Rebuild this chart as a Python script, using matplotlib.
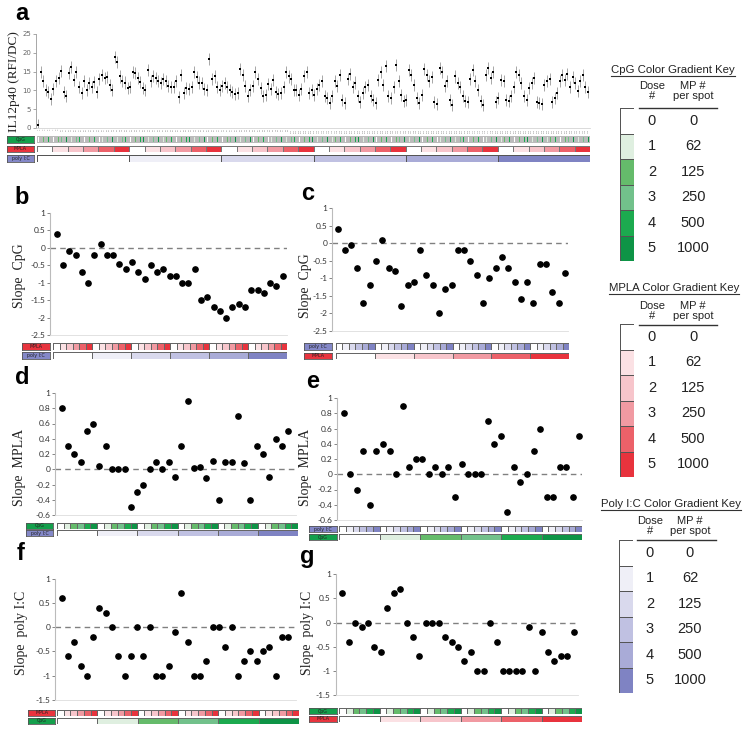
import matplotlib
matplotlib.use('Agg')
import matplotlib.pyplot as plt
from matplotlib.colors import ListedColormap
from matplotlib.lines import Line2D
from matplotlib.ticker import FuncFormatter
import numpy as np

# Figure size in pixels
W, H = 750, 732

plt.rcParams['axes.unicode_minus'] = False

# Dose levels shared by the three adjuvants
DOSES = [0, 1, 2, 3, 4, 5]
MP_PER_SPOT = [0, 62, 125, 250, 500, 1000]

CPG_COLORS = ['#ffffff', '#dfefe0', '#65bb6b', '#72c18b', '#1caa4f', '#0e9446']
MPLA_COLORS = ['#ffffff', '#fbe1e4', '#f7c5cb', '#f19aa2', '#ec6169', '#e8333d']
POLY_COLORS = ['#ffffff', '#efeff7', '#d9d9ed', '#c0c1e2', '#a9abd7', '#7f83c3']
TAG_COLORS = {'CpG': '#14a04c', 'MPLA': '#e8343e', 'poly I:C': '#8488c8'}

# Panel a: IL12p40 for all 216 combinations (poly I:C outer, MPLA middle, CpG inner)
IL12 = [0.8, 14.8, 12.6, 10.1, 9.7, 7.7, 10.3, 12.4, 13.3, 15.2,
        9.5, 8.4, 14.6, 16.1, 12.8, 14.9, 10.9, 9.3, 12.4, 10.0,
        11.9, 10.9, 12.2, 9.5, 13.0, 14.2, 13.2, 13.5, 11.5, 10.1,
        19.0, 17.6, 13.7, 12.4, 12.1, 10.6, 10.9, 15.0, 14.6, 13.4,
        12.2, 10.6, 10.1, 15.5, 12.5, 13.9, 13.2, 12.4, 11.9, 13.0,
        12.4, 11.2, 10.9, 11.0, 12.4, 8.2, 14.1, 9.4, 10.6, 10.3,
        10.9, 14.8, 13.5, 12.1, 11.9, 10.3, 10.1, 18.3, 13.1, 13.7,
        10.9, 10.1, 11.2, 11.9, 10.9, 10.1, 9.7, 9.1, 9.4, 15.8,
        14.1, 11.2, 8.5, 10.0, 11.2, 14.8, 13.0, 10.6, 8.4, 8.8,
        11.7, 10.3, 12.8, 9.7, 9.1, 9.4, 10.9, 14.8, 13.7, 13.0,
        10.0, 10.1, 8.8, 10.3, 13.9, 15.0, 9.3, 10.1, 8.8, 10.3,
        11.5, 12.4, 8.4, 7.9, 6.6, 8.4, 12.4, 11.2, 14.1, 7.5,
        6.6, 13.0, 14.4, 10.9, 12.1, 8.4, 7.0, 9.3, 10.9, 11.5,
        8.4, 7.5, 6.6, 12.8, 14.8, 11.5, 16.4, 8.4, 7.9, 10.9,
        16.8, 12.4, 8.8, 7.3, 7.5, 15.5, 14.1, 11.5, 7.9, 6.6,
        8.8, 15.7, 14.1, 12.4, 13.5, 7.0, 6.4, 15.9, 14.8, 11.2,
        12.4, 7.5, 6.1, 13.7, 11.9, 11.0, 8.4, 7.3, 7.0, 13.0,
        15.5, 12.4, 10.1, 7.3, 6.1, 14.1, 15.9, 13.3, 15.0, 7.0,
        7.9, 12.8, 12.4, 7.5, 7.3, 8.4, 10.9, 15.0, 14.1, 11.9,
        8.4, 7.5, 10.6, 11.9, 13.3, 7.0, 6.6, 6.4, 11.5, 12.4,
        13.0, 7.0, 7.9, 9.3, 12.4, 14.1, 12.8, 14.4, 10.9, 13.5,
        12.0, 9.8, 12.6, 14.2, 11.0, 9.6]
IL12_ERR = 1.6

# Panels b-g: slopes
SLOPE_B = [0.4, -0.5, -0.1, -0.2, -0.7, -1.0, -0.2, 0.1, -0.2, -0.2,
           -0.45, -0.6, -0.4, -0.7, -0.9, -0.5, -0.7, -0.6, -0.8, -0.8,
           -1.0, -1.0, -0.6, -1.5, -1.4, -1.7, -1.8, -2.0, -1.7, -1.6,
           -1.7, -1.2, -1.2, -1.3, -1.0, -1.1, -0.8]
SLOPE_C = [0.4, -0.2, -0.05, -0.7, -1.7, -1.2, -0.5, 0.1, -0.7, -0.8,
           -1.8, -1.2, -1.1, -0.2, -0.9, -1.2, -2.0, -1.3, -1.2, -0.2,
           -0.2, -0.5, -0.9, -1.7, -1.0, -0.7, -0.4, -0.7, -1.1, -1.6,
           -1.1, -1.7, -0.6, -0.6, -1.4, -1.7, -0.85]
SLOPE_D = [0.8, 0.3, 0.2, 0.1, 0.5, 0.6, 0.04, 0.3, 0.0, 0.0,
           0.0, -0.5, -0.3, -0.2, 0.0, 0.1, 0.0, 0.1, -0.1, 0.3,
           0.9, 0.02, 0.03, -0.11, 0.11, -0.4, 0.1, 0.1, 0.7, 0.08,
           -0.4, 0.3, 0.2, -0.1, 0.4, 0.3, 0.5]
SLOPE_E = [0.8, 0.0, -0.2, 0.3, -0.4, 0.3, 0.4, 0.3, 0.0, 0.9,
           0.1, 0.2, 0.2, 0.0, 0.1, 0.0, 0.1, -0.3, 0.14, 0.0,
           0.0, 0.0, 0.7, 0.4, 0.5, -0.5, 0.1, -0.1, 0.0, 0.3,
           0.6, -0.3, -0.3, 0.1, 0.1, -0.3, 0.5]
SLOPE_F = [0.6, -0.6, -0.3, -0.8, -1.0, -0.2, 0.4, 0.3, 0.0, -0.6,
           -1.0, -0.6, 0.0, -0.6, 0.0, -1.0, -1.0, -0.8, -0.1, 0.7,
           -0.3, -1.0, -1.0, -0.7, 0.0, 0.0, -0.4, 0.0, -1.0, -0.7,
           -0.5, -0.7, -0.5, -0.4, -1.0, -0.2, -0.2]
SLOPE_G = [0.6, -0.4, 0.0, -0.1, 0.0, -0.5, -0.6, 0.3, 0.6, 0.7,
           0.0, -0.3, -0.7, 0.0, 0.0, 0.0, -0.3, -0.4, -0.5, -0.8,
           -0.6, -1.0, -1.0, 0.0, -0.4, -1.0, -1.0, -1.0, -1.0, -0.1,
           -1.0, -0.2, -0.6, -0.8, -0.7, -0.7, -0.2]


def px_axes(fig, left, top, right, bottom):
    """Add axes placed with pixel coordinates measured from the top-left."""
    return fig.add_axes([left / W, 1 - bottom / H, (right - left) / W, (bottom - top) / H])


def dose_strip(fig, box, doses, colors, edge='#666666', lw=0.6):
    ax = px_axes(fig, *box)
    ax.pcolormesh(np.array([doses]), cmap=ListedColormap(colors), vmin=-0.5, vmax=5.5,
                  edgecolors=edge, linewidth=lw)
    ax.set_xlim(0, len(doses))
    ax.set_ylim(0, 1)
    ax.axis('off')
    return ax


def tag(fig, box, name):
    ax = px_axes(fig, *box)
    ax.set_facecolor(TAG_COLORS[name])
    ax.set_xticks([])
    ax.set_yticks([])
    for s in ax.spines.values():
        s.set_color('#555555')
        s.set_linewidth(0.6)
    ax.text(0.5, 0.5, name, ha='center', va='center', fontsize=3.4,
            color='#222222', transform=ax.transAxes)


def panel_letter(fig, x, y, letter):
    fig.text(x / W, 1 - y / H, letter, fontsize=17, fontweight='bold',
             family='Liberation Sans', ha='left', va='center')


def vlabel(fig, x, y, text, size=10):
    fig.text(x / W, 1 - y / H, text, rotation=90, ha='center', va='center',
             family='Liberation Serif', fontsize=size, color='#222222')


def slope_panel(fig, box, values, xlim, ylim, yticks):
    ax = px_axes(fig, *box)
    x = np.arange(len(values))
    ax.axhline(0, color='#808080', lw=1.0, ls=(0, (4, 3)))
    ax.plot(x, values, 'o', color='black', ms=3.8, clip_on=False, zorder=3)
    ax.set_xlim(*xlim)
    ax.set_ylim(*ylim)
    ax.set_yticks(yticks)
    ax.yaxis.set_major_formatter(FuncFormatter(lambda v, p: f'{v:g}'))
    ax.set_xticks([])
    ax.tick_params(axis='y', labelsize=6, colors='#555555', length=2, width=0.5, pad=1.5)
    for lbl in ax.get_yticklabels():
        lbl.set_family('Lato')
        lbl.set_color('#333333')
    ax.spines['top'].set_visible(False)
    ax.spines['right'].set_visible(False)
    ax.spines['left'].set_color('#bbbbbb')
    ax.spines['bottom'].set_color('#dddddd')
    ax.spines['left'].set_linewidth(0.8)
    ax.spines['bottom'].set_linewidth(0.6)
    return ax


fig = plt.figure(figsize=(W / 100, H / 100), dpi=100)

# ---------------- panel a ----------------
ax = px_axes(fig, 36, 34, 590, 128)
xa = np.arange(len(IL12))
ax.errorbar(xa, IL12, yerr=IL12_ERR, fmt='s', ms=1.8, mew=0, color='black',
            ecolor='#666666', elinewidth=0.4, capsize=0.8, capthick=0.4)
ax.set_xlim(-0.8, len(IL12) - 0.2)
ax.set_ylim(0, 25)
ax.set_yticks([0, 5, 10, 15, 20, 25])
ax.set_xticks(xa)
ax.set_xticklabels([str(i + 1) for i in xa], fontsize=1.6, color='#888888', rotation=90)
ax.tick_params(axis='x', length=0, pad=0.5)
ax.tick_params(axis='y', labelsize=5, colors='#666666', length=2, width=0.4, pad=1.5)
ax.spines['top'].set_visible(False)
ax.spines['right'].set_visible(False)
ax.spines['left'].set_color('#999999')
ax.spines['bottom'].set_color('#cccccc')
ax.spines['left'].set_linewidth(0.6)
ax.spines['bottom'].set_linewidth(0.5)
vlabel(fig, 14, 82, 'IL12p40 (RFI/DC)', size=9.5)
panel_letter(fig, 15, 14, 'a')

cpg_216 = [c for p in DOSES for m in DOSES for c in DOSES]
mpla_36 = [m for p in DOSES for m in DOSES]
dose_strip(fig, (37, 136, 590, 143), cpg_216, CPG_COLORS, edge='#bbbbbb', lw=0.2)
dose_strip(fig, (37, 145.5, 590, 152), mpla_36, MPLA_COLORS, edge='#777777', lw=0.4)
dose_strip(fig, (37, 155, 590, 162), DOSES, POLY_COLORS, edge='#555555', lw=0.6)
tag(fig, (7, 136, 34, 143), 'CpG')
tag(fig, (7, 145.5, 34, 152), 'MPLA')
tag(fig, (7, 155, 34, 162), 'poly I:C')

inner36 = [i for o in DOSES for i in DOSES]

# ---------------- panel b ----------------
slope_panel(fig, (50, 213, 287, 335), SLOPE_B, (-1.07, 36.7), (-2.5, 1),
            [-2.5, -2, -1.5, -1, -0.5, 0, 0.5, 1])
vlabel(fig, 19, 276, 'Slope  CpG')
panel_letter(fig, 14, 198, 'b')
dose_strip(fig, (53, 343, 287, 350), inner36, MPLA_COLORS)
dose_strip(fig, (53, 352, 287, 359), DOSES, POLY_COLORS)
tag(fig, (22, 343, 50, 350), 'MPLA')
tag(fig, (22, 352, 50, 359), 'poly I:C')

# ---------------- panel c ----------------
slope_panel(fig, (332, 208, 568, 331), SLOPE_C, (-1.0, 36.5), (-2.5, 1),
            [-2.5, -2, -1.5, -1, -0.5, 0, 0.5, 1])
vlabel(fig, 305, 286, 'Slope  CpG')
panel_letter(fig, 301, 194, 'c')
dose_strip(fig, (336, 343, 569, 350), inner36, POLY_COLORS)
dose_strip(fig, (336, 352.5, 569, 359), DOSES, MPLA_COLORS)
tag(fig, (304, 343, 332, 350), 'poly I:C')
tag(fig, (304, 352.5, 332, 359), 'MPLA')

# ---------------- panel d ----------------
slope_panel(fig, (55, 393, 296, 515), SLOPE_D, (-1.07, 37.25), (-0.6, 1),
            [-0.6, -0.4, -0.2, 0, 0.2, 0.4, 0.6, 0.8, 1])
vlabel(fig, 20, 467, 'Slope  MPLA')
panel_letter(fig, 15, 378, 'd')
dose_strip(fig, (57, 522.5, 298, 528.5), inner36, CPG_COLORS)
dose_strip(fig, (57, 530, 298, 536), DOSES, POLY_COLORS)
tag(fig, (26, 522.5, 53, 528.5), 'CpG')
tag(fig, (26, 530, 53, 536), 'poly I:C')

# ---------------- panel e ----------------
slope_panel(fig, (337, 398, 582, 520), SLOPE_E, (-1.02, 36.4), (-0.6, 1),
            [-0.6, -0.4, -0.2, 0, 0.2, 0.4, 0.6, 0.8, 1])
vlabel(fig, 306, 467, 'Slope  MPLA')
panel_letter(fig, 306, 381, 'e')
dose_strip(fig, (339, 526, 582, 532), inner36, POLY_COLORS)
dose_strip(fig, (339, 534, 582, 540), DOSES, CPG_COLORS)
tag(fig, (309, 526, 337, 532), 'poly I:C')
tag(fig, (309, 534, 337, 540), 'CpG')

# ---------------- panel f ----------------
slope_panel(fig, (55, 578.7, 296, 700), SLOPE_F, (-1.07, 37.25), (-1.5, 1),
            [-1.5, -1, -0.5, 0, 0.5, 1])
vlabel(fig, 22, 633, 'Slope  poly I:C')
panel_letter(fig, 17, 553, 'f')
dose_strip(fig, (57, 710, 299, 716), inner36, MPLA_COLORS)
dose_strip(fig, (57, 717.5, 299, 723.5), DOSES, CPG_COLORS)
tag(fig, (28, 710, 55, 716), 'MPLA')
tag(fig, (28, 717.5, 55, 723.5), 'CpG')

# ---------------- panel g ----------------
slope_panel(fig, (335.7, 574, 578, 695.3), SLOPE_G, (-1.03, 36.66), (-1.5, 1),
            [-1.5, -1, -0.5, 0, 0.5, 1])
vlabel(fig, 308, 633, 'Slope  poly I:C')
panel_letter(fig, 300, 556, 'g')
dose_strip(fig, (339, 708, 582, 714), inner36, CPG_COLORS)
dose_strip(fig, (339, 716, 582, 722), DOSES, MPLA_COLORS)
tag(fig, (309, 708, 337, 714), 'CpG')
tag(fig, (309, 716, 337, 722), 'MPLA')

# ---------------- colour keys ----------------
# title, colours, bar box, title centre x/y, header y, rule y, dose x, MP x, rule x0/x1
keys = [
    ('CpG Color Gradient Key', CPG_COLORS, (620, 108, 634, 261), 673, 70, 91, 108, 652, 693, 639, 717),
    ('MPLA Color Gradient Key', MPLA_COLORS, (620, 324, 634, 477), 674, 288, 311, 325, 652, 693, 639, 717),
    ('Poly I:C Color Gradient Key', POLY_COLORS, (619, 540, 633, 693), 671, 504, 526, 540, 650, 690, 637, 716),
]
titles = []
for title, colors, bar, tx, ty, hy, ly, dx, mx, lx0, lx1 in keys:
    kax = px_axes(fig, *bar)
    kax.pcolormesh(np.array(DOSES).reshape(-1, 1), cmap=ListedColormap(colors),
                   vmin=-0.5, vmax=5.5, edgecolors='#555555', linewidth=0.6)
    kax.set_ylim(len(DOSES), 0)
    kax.axis('off')
    t = fig.text(tx / W, 1 - ty / H, title, ha='center', va='center',
                 family='Liberation Sans', fontsize=8.2, color='#222222')
    titles.append(t)
    fig.text(dx / W, 1 - hy / H, 'Dose\n#', ha='center', va='center', linespacing=0.95,
             family='Liberation Sans', fontsize=8, color='#222222')
    fig.text(mx / W, 1 - hy / H, 'MP #\nper spot', ha='center', va='center', linespacing=0.95,
             family='Liberation Sans', fontsize=8, color='#222222')
    fig.add_artist(Line2D([lx0 / W, lx1 / W], [1 - ly / H, 1 - ly / H],
                          transform=fig.transFigure, color='#333333', lw=1.0))
    cell = (bar[3] - bar[1]) / len(DOSES)
    for i, (d, mp) in enumerate(zip(DOSES, MP_PER_SPOT)):
        yc = bar[1] + (i + 0.5) * cell
        fig.text(dx / W, 1 - yc / H, str(d), ha='center', va='center',
                 family='Liberation Sans', fontsize=10.5, color='#222222')
        fig.text(mx / W, 1 - yc / H, str(mp), ha='center', va='center',
                 family='Liberation Sans', fontsize=10.5, color='#222222')

# underline the key titles
fig.canvas.draw()
for t in titles:
    bb = t.get_window_extent()
    yline = bb.y0 - 1
    fig.add_artist(Line2D([bb.x0 / W, bb.x1 / W], [yline / H, yline / H],
                          transform=fig.transFigure, color='#333333', lw=0.8))

fig.savefig('out.png', dpi=100)
